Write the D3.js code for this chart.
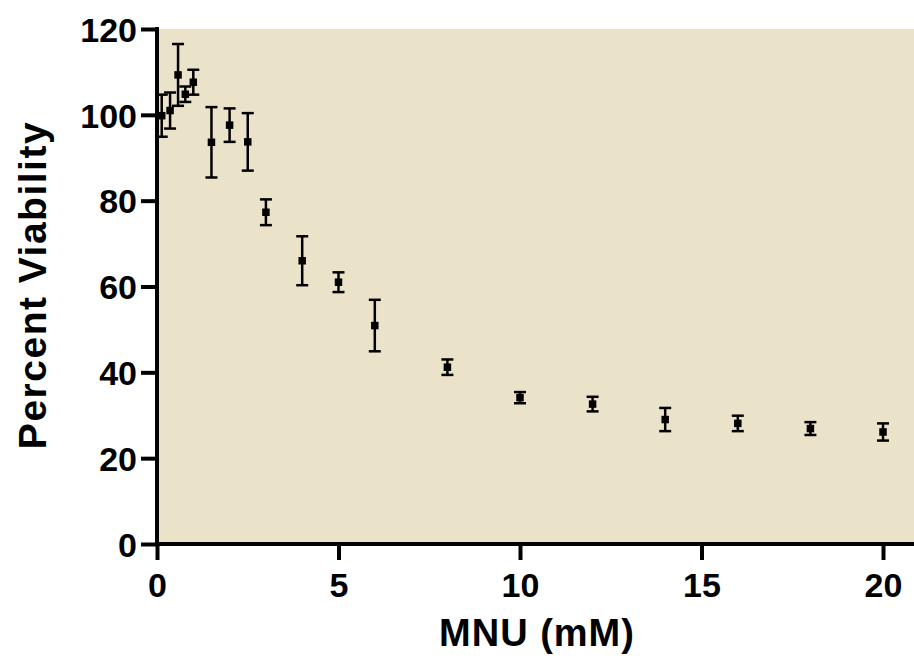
<!DOCTYPE html>
<html>
<head>
<meta charset="utf-8">
<script src="https://cdn.jsdelivr.net/npm/d3@7"></script>
<style>
    body { margin: 0; background: #fff; }
    text { font-family: "Liberation Sans", Arial, sans-serif; font-weight: bold; fill: #000; }
</style>
</head>
<body>
<div id="chart"></div>
<script>
// MNU dose (mM)
var dose = [0.13, 0.36, 0.58, 0.78, 1, 1.5, 2, 2.5, 3, 4, 5, 6, 8, 10, 12, 14, 16, 18, 20]
// mean percent viability
var viability = [99.8, 101, 109.3, 104.8, 107.6, 93.6, 97.6, 93.7, 77.3, 66.0, 61.0, 50.9, 41.2, 34.1, 32.6, 29.0, 28.1, 26.9, 26.1]
// error (+/-)
var errs = [4.9, 4.2, 7.2, 1.8, 2.9, 8.2, 3.9, 6.7, 3.0, 5.7, 2.3, 6.0, 1.8, 1.3, 1.7, 2.7, 1.8, 1.5, 2.0]
var xTicks = [0, 5, 10, 15, 20]
var yTicks = [0, 20, 40, 60, 80, 100, 120]

var width = 914, height = 666

var data = dose.map((d, i) => ({x: d, y: viability[i], e: errs[i]}))

var xScale = d3.scaleLinear().domain([0, 20]).range([157, 883])
var yScale = d3.scaleLinear().domain([0, 120]).range([544, 29])

var svg = d3.select("#chart").append("svg")
    .attr("width", width)
    .attr("height", height)

// plot background
svg.append("rect")
    .attr("x", xScale(0))
    .attr("y", yScale(120))
    .attr("width", width - xScale(0))
    .attr("height", yScale(0) - yScale(120))
    .style("fill", "#ebe3c9")

/* Axes */
var xAxis = d3.axisBottom(xScale).tickValues(xTicks).tickSize(16).tickPadding(13).tickFormat(d3.format("d"))
var yAxis = d3.axisLeft(yScale).tickValues(yTicks).tickSize(16).tickPadding(4).tickFormat(d3.format("d"))

var gx = svg.append("g")
    .attr("class", "x axis")
    .attr("transform", `translate(0, ${yScale(0)})`)
    .call(xAxis)
gx.select(".domain").remove()
gx.append("line")
    .attr("x1", xScale(0) - 2).attr("x2", width)
    .attr("y1", 0).attr("y2", 0)
gx.selectAll("line").style("stroke", "#000").style("stroke-width", 4)
gx.selectAll("text").style("font-size", "34px").attr("dy", "0.72em")

var gy = svg.append("g")
    .attr("class", "y axis")
    .attr("transform", `translate(${xScale(0)}, 0)`)
    .call(yAxis)
gy.select(".domain").remove()
gy.append("line")
    .attr("x1", 0).attr("x2", 0)
    .attr("y1", yScale(120) - 2).attr("y2", yScale(0) + 2)
gy.selectAll("line").style("stroke", "#000").style("stroke-width", 4)
gy.selectAll("text").style("font-size", "34px").attr("dy", "0.36em")

/* Error bars */
var bars = svg.append("g").attr("class", "errorbars")
var capW = 6

var bar = bars.selectAll(".bar")
    .data(data).enter()
    .append("g")
    .attr("class", "bar")
    .style("stroke", "#000")
    .style("stroke-width", 2.5)

bar.append("line")
    .attr("x1", d => xScale(d.x)).attr("x2", d => xScale(d.x))
    .attr("y1", d => yScale(d.y + d.e)).attr("y2", d => yScale(d.y - d.e))
bar.append("line")
    .attr("x1", d => xScale(d.x) - capW).attr("x2", d => xScale(d.x) + capW)
    .attr("y1", d => yScale(d.y + d.e)).attr("y2", d => yScale(d.y + d.e))
bar.append("line")
    .attr("x1", d => xScale(d.x) - capW).attr("x2", d => xScale(d.x) + capW)
    .attr("y1", d => yScale(d.y - d.e)).attr("y2", d => yScale(d.y - d.e))

/* Points */
var sz = 7.5
svg.append("g").attr("class", "points")
    .selectAll("rect")
    .data(data).enter()
    .append("rect")
    .attr("x", d => xScale(d.x) - sz / 2)
    .attr("y", d => yScale(d.y) - sz / 2)
    .attr("width", sz)
    .attr("height", sz)
    .style("fill", "#000")

/* Axis titles */
svg.append("text")
    .attr("x", 537)
    .attr("y", 646)
    .attr("text-anchor", "middle")
    .style("font-size", "38px")
    .style("letter-spacing", "1px")
    .text("MNU (mM)")

svg.append("text")
    .attr("transform", `translate(46, 285) rotate(-90)`)
    .attr("text-anchor", "middle")
    .style("font-size", "39px")
    .style("letter-spacing", "1.5px")
    .text("Percent Viability")
</script>
</body>
</html>
